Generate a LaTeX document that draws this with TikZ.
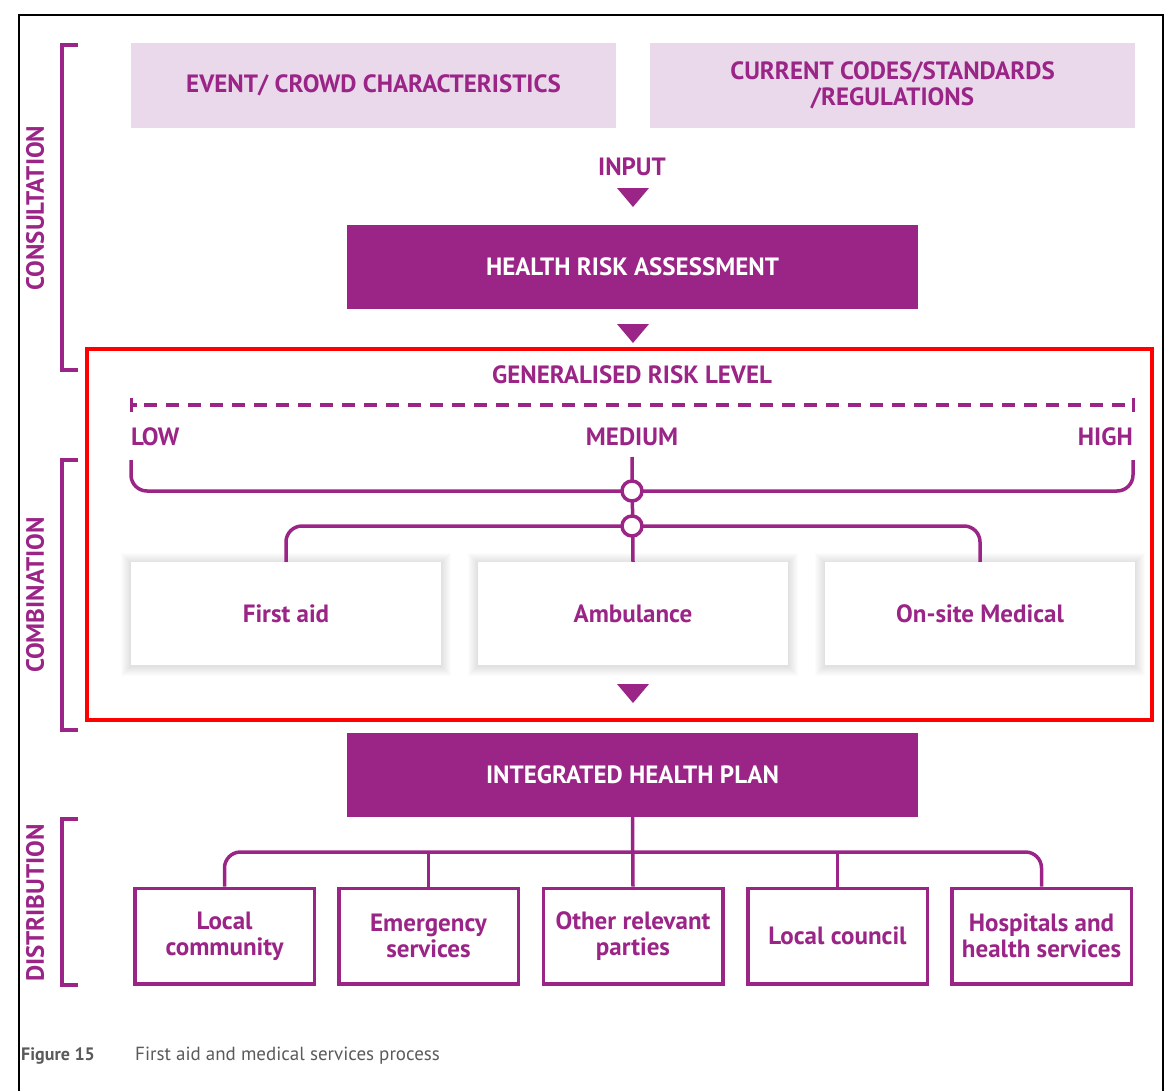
\documentclass[tikz,border=0pt]{standalone}
\usepackage{fontspec}
\setmainfont{PT Sans}
\usetikzlibrary{calc}
\definecolor{purp}{HTML}{9B2487}
\definecolor{lpink}{HTML}{E9D9EB}
\definecolor{capgray}{HTML}{5A5A5A}
\pgfdeclarelayer{bg}
\pgfsetlayers{bg,main}
\tikzset{
  mainfont/.style={font=\bfseries\fontsize{25}{26}\selectfont},
  lightbox/.style={fill=lpink, draw=none, minimum width=485, minimum height=85, inner sep=0, mainfont, text=purp, align=center},
  darkbox/.style={fill=purp, draw=none, minimum width=571, minimum height=84, inner sep=0, mainfont, text=white},
  servbox/.style={fill=white, draw=none, minimum width=310, minimum height=103, inner sep=0, mainfont, text=purp},
  distbox/.style={draw=purp, line width=3.5, fill=white, minimum width=179.5, minimum height=95.5, inner sep=0, mainfont, text=purp, align=center},
  lbl/.style={mainfont, text=purp, inner sep=0},
  conn/.style={draw=purp, line width=3.5, rounded corners=16},
  brk/.style={draw=purp, line width=3.5},
  junction/.style={circle, draw=purp, line width=3.5, fill=white, minimum size=20, inner sep=0},
  tri/.style={fill=purp}
}
\begin{document}
\begin{tikzpicture}[x=1pt,y=-1pt]
\useasboundingbox (0,0) rectangle (1173,1090);
% frame
\draw[black, line width=2.2] (19,1092) -- (19,15) -- (1163,15) -- (1163,1092);

% side brackets and labels
\draw[brk] (78,45) -- (62,45) -- (62,370) -- (78,370);
\draw[brk] (78,460) -- (62,460) -- (62,730) -- (78,730);
\draw[brk] (78,819) -- (62,819) -- (62,985) -- (78,985);
\node[lbl, rotate=90] (consult) at (35,208) {CONSULTATION};
\node[lbl, rotate=90] (combin) at (35,595) {COMBINATION};
\node[lbl, rotate=90] (distrib) at (35,903) {DISTRIBUTION};

% top inputs
\node[lightbox] (ev) at (373.5,85.5) {EVENT/ CROWD CHARACTERISTICS};
\node[lightbox] (cc) at (892.5,85.5) {CURRENT CODES/STANDARDS\\/REGULATIONS};
\node[lbl] (input) at (632,167) {INPUT};
\fill[tri] (617,188) -- (649,188) -- (633,207) -- cycle;

\node[darkbox] (hra) at (632.5,267) {HEALTH RISK ASSESSMENT};
\fill[tri] (617,324) -- (649,324) -- (633,343) -- cycle;

% highlighted region
\draw[red, line width=4] (87,349) rectangle (1152,720);

\node[lbl] (grl) at (632,375) {GENERALISED RISK LEVEL};
\coordinate (sL) at (131,405);
\coordinate (sR) at (1133,405);
\draw[purp, line width=3.5, dash pattern=on 13 off 9] ($(sL)+(13,0)$) -- (sR);
\draw[purp, line width=3.5] (sL) -- ++(6,0);
\draw[purp, line width=3] ($(sL)+(0,-7)$) -- ($(sL)+(0,7)$);
\draw[purp, line width=3] ($(sR)+(0,-7)$) -- ($(sR)+(0,7)$);

\node[lbl, anchor=west] (low) at (131,437) {LOW};
\node[lbl] (medium) at (632,437) {MEDIUM};
\node[lbl, anchor=east] (high) at (1133,437) {HIGH};

\node[servbox] (fa) at (286,613.5) {First aid};
\node[servbox] (amb) at (633,613.5) {Ambulance};
\node[servbox] (osm) at (980,613.5) {On-site Medical};
\begin{pgfonlayer}{bg}
\foreach \n in {fa,amb,osm}{
  \foreach \i in {1,...,10}{
    \fill[black,opacity=0.012] ($(\n.south west)+(-\i,\i+1)$) rectangle ($(\n.north east)+(\i,-\i+1)$);
  }
}
\end{pgfonlayer}

\coordinate (jtop) at (632,491);
\coordinate (jbot) at (632,526);
\coordinate (lowend) at (131,460);
\coordinate (highend) at (1133,460);
\draw[conn] (lowend) |- (jtop) -| (highend);
\draw[conn] (fa.north) |- (jbot) -| (osm.north);
\draw[brk] (632,457) -- (amb.north);
\node[junction] (j1) at (jtop) {};
\node[junction] (j2) at (jbot) {};

\fill[tri] (617,684) -- (649,684) -- (633,703) -- cycle;

\node[darkbox] (ihp) at (632.5,775) {INTEGRATED HEALTH PLAN};

% distribution
\node[distbox] (d1) at (224.5,936) {Local\\community};
\node[distbox] (d2) at (428.5,936) {Emergency\\services};
\node[distbox] (d3) at (633,936) {Other relevant\\parties};
\node[distbox] (d4) at (837.5,936) {Local council};
\node[distbox] (d5) at (1041.5,936) {Hospitals and\\health services};
\coordinate (hub) at (632,852);
\draw[conn] (d1.north) |- (hub) -| (d5.north);
\draw[brk] (ihp.south) -- (d3.north);
\draw[brk] (d2.north) -- (d2.north |- hub);
\draw[brk] (d4.north) -- (d4.north |- hub);

% caption
\node[anchor=west, inner sep=0, text=capgray, font=\bfseries\fontsize{18}{20}\selectfont] (fig) at (21,1056) {Figure 15};
\node[anchor=west, inner sep=0, text=capgray, font=\fontsize{19}{21}\selectfont] (cap) at (135,1056) {First aid and medical services process};
\end{tikzpicture}
\end{document}
